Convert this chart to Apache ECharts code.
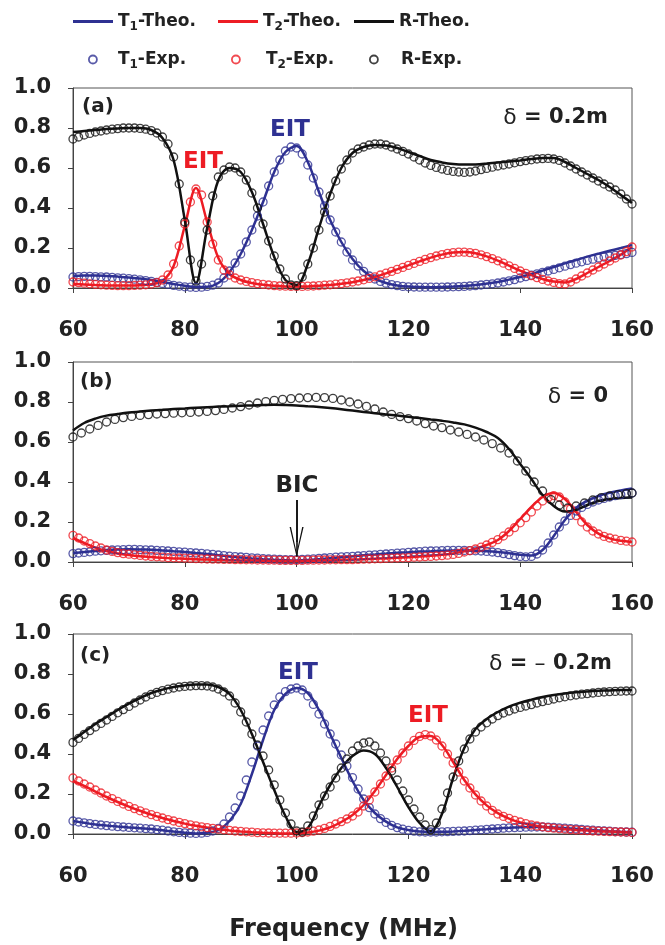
<!DOCTYPE html>
<html>
<head>
<meta charset="utf-8">
<title>T1 / T2 / R spectra</title>
<script src="https://cdn.jsdelivr.net/npm/echarts@6.0.0/dist/echarts.min.js"></script>
<style>
  html, body { margin: 0; padding: 0; background: #fff; }
  #chart { width: 665px; height: 945px; }
</style>
</head>
<body>
<div id="chart"></div>
<script>
var BLUE = '#2e3192', RED = '#ed1c24', BLACK = '#111';
var FONT = 'DejaVu Sans';

// frequency grids (MHz)
var freqExp = [60,61,62,63,64,65,66,67,68,69,70,71,72,73,74,75,76,77,78,79,
  80,81,82,83,84,85,86,87,88,89,90,91,92,93,94,95,96,97,98,99,
  100,101,102,103,104,105,106,107,108,109,110,111,112,113,114,115,116,117,118,119,
  120,121,122,123,124,125,126,127,128,129,130,131,132,133,134,135,136,137,138,139,
  140,141,142,143,144,145,146,147,148,149,150,151,152,153,154,155,156,157,158,159,160];
var freqTheo = [60,62,64,66,68,70,72,74,76,78,80,82,84,86,88,90,92,94,96,98,
  100,102,104,106,108,110,112,114,116,118,120,122,124,126,128,130,132,134,136,138,
  140,142,144,146,148,150,152,154,156,158,160];
var freqRExpB = [60,61.5,63,64.5,66,67.5,69,70.5,72,73.5,75,76.5,78,79.5,81,82.5,84,85.5,87,88.5,
  90,91.5,93,94.5,96,97.5,99,100.5,102,103.5,105,106.5,108,109.5,111,112.5,114,115.5,117,118.5,
  120,121.5,123,124.5,126,127.5,129,130.5,132,133.5,135,136.5,138,139.5,141,142.5,144,145.5,147,148.5,
  150,151.5,153,154.5,156,157.5,159,160];

// panel (a)  delta = 0.2m
var t1ExpA = [.055,.057,.058,.058,.057,.056,.055,.053,.051,.049,
  .047,.044,.041,.037,.033,.028,.023,.018,.013,.009,
  .006,.004,.003,.004,.008,.014,.025,.05,.085,.125,
  .17,.23,.29,.36,.43,.51,.58,.64,.685,.705,
  .70,.67,.615,.55,.48,.41,.34,.28,.23,.18,
  .14,.11,.083,.06,.045,.033,.024,.017,.012,.008,
  .006,.005,.004,.004,.004,.004,.004,.005,.006,.007,
  .008,.01,.012,.015,.018,.021,.025,.03,.036,.042,
  .05,.057,.064,.071,.078,.085,.093,.101,.109,.117,
  .124,.131,.138,.144,.15,.155,.159,.163,.167,.172,.178];
var t2ExpA = [.03,.027,.024,.021,.018,.016,.014,.013,.012,.012,
  .012,.013,.014,.016,.02,.027,.04,.065,.12,.21,
  .32,.43,.495,.465,.33,.22,.14,.09,.065,.05,
  .04,.033,.027,.022,.018,.015,.012,.01,.009,.008,
  .008,.008,.009,.01,.012,.014,.016,.019,.022,.026,
  .03,.035,.041,.048,.056,.065,.074,.083,.093,.103,
  .113,.123,.133,.143,.152,.16,.167,.173,.177,.179,
  .179,.177,.173,.166,.157,.147,.136,.124,.111,.098,
  .085,.073,.062,.052,.043,.035,.028,.022,.02,.03,
  .045,.06,.075,.09,.105,.12,.135,.15,.165,.182,.205];
var rExpA = [.745,.755,.765,.773,.78,.785,.79,.794,.797,.80,
  .80,.80,.798,.794,.787,.775,.755,.72,.655,.52,
  .33,.14,.035,.12,.29,.46,.555,.59,.605,.60,
  .58,.54,.475,.40,.32,.235,.16,.095,.045,.015,
  .012,.055,.12,.2,.29,.38,.46,.535,.595,.64,
  .675,.695,.705,.715,.72,.72,.715,.705,.695,.683,
  .67,.655,.64,.625,.613,.603,.595,.588,.583,.58,
  .578,.58,.585,.592,.598,.604,.61,.615,.62,.626,
  .632,.637,.641,.645,.647,.648,.645,.638,.625,.61,
  .595,.58,.565,.55,.535,.52,.505,.49,.47,.445,.42];
var t1TheoA = [.06,.062,.062,.06,.057,.053,.047,.04,.03,.02,
  .011,.005,.006,.025,.08,.17,.29,.43,.58,.68,
  .71,.63,.48,.34,.23,.145,.085,.047,.025,.013,
  .007,.005,.004,.005,.007,.01,.015,.022,.03,.042,
  .055,.07,.087,.105,.123,.14,.157,.172,.186,.2,.215];
var t2TheoA = [.02,.018,.015,.013,.012,.012,.014,.019,.035,.11,
  .31,.50,.33,.15,.07,.04,.025,.016,.011,.008,
  .007,.008,.011,.015,.021,.029,.04,.055,.073,.093,
  .113,.133,.152,.167,.177,.18,.174,.158,.137,.112,
  .087,.064,.045,.032,.028,.045,.075,.105,.135,.167,.205];
var rTheoA = [.78,.785,.79,.795,.798,.80,.80,.79,.75,.64,
  .34,.025,.30,.54,.60,.58,.48,.32,.155,.04,
  .015,.12,.30,.47,.60,.675,.705,.715,.712,.70,
  .68,.66,.64,.628,.62,.617,.618,.622,.627,.632,
  .638,.645,.65,.65,.63,.60,.57,.54,.505,.465,.425];

// panel (b)  delta = 0
var t1ExpB = [.042,.045,.048,.051,.054,.056,.058,.06,.061,.062,
  .063,.063,.062,.061,.06,.058,.057,.055,.053,.051,
  .049,.047,.045,.043,.041,.038,.035,.032,.029,.027,
  .025,.023,.021,.019,.017,.015,.014,.013,.012,.012,
  .012,.013,.014,.016,.018,.02,.022,.024,.026,.027,
  .028,.03,.032,.034,.036,.038,.04,.042,.044,.046,
  .048,.05,.052,.054,.055,.056,.057,.058,.058,.058,
  .058,.057,.056,.055,.053,.05,.047,.042,.037,.032,
  .028,.026,.028,.04,.06,.095,.135,.175,.205,.233,
  .255,.273,.288,.30,.31,.318,.325,.332,.337,.341,.345];
var t2ExpB = [.133,.12,.105,.092,.08,.07,.06,.053,.047,.042,
  .039,.036,.033,.03,.028,.026,.024,.022,.021,.02,
  .019,.018,.017,.016,.015,.014,.014,.013,.013,.012,
  .012,.011,.011,.01,.01,.009,.009,.008,.008,.008,
  .008,.008,.009,.009,.01,.01,.011,.011,.012,.012,
  .012,.013,.014,.015,.016,.017,.018,.019,.02,.021,
  .022,.024,.025,.027,.028,.03,.032,.034,.038,.043,
  .05,.057,.065,.074,.085,.098,.112,.13,.15,.172,
  .196,.222,.25,.28,.305,.322,.332,.325,.30,.265,
  .232,.2,.175,.155,.14,.128,.12,.114,.108,.104,.10];
var rExpB = [.625,.645,.665,.683,.70,.713,.722,.728,.733,.737,
  .74,.742,.744,.746,.748,.75,.753,.757,.763,.77,
  .777,.785,.795,.802,.808,.813,.817,.82,.822,.823,
  .822,.818,.81,.80,.79,.778,.765,.75,.738,.727,
  .717,.705,.692,.68,.672,.66,.65,.638,.625,.61,
  .592,.57,.545,.505,.455,.40,.355,.312,.285,.27,
  .28,.295,.31,.322,.33,.337,.342,.345];
var t1TheoB = [.045,.05,.055,.06,.063,.064,.063,.061,.058,.054,
  .05,.045,.04,.034,.028,.023,.018,.014,.011,.009,
  .008,.01,.014,.019,.024,.029,.034,.038,.042,.046,
  .049,.052,.054,.056,.057,.057,.056,.054,.05,.044,
  .036,.032,.06,.13,.21,.27,.305,.33,.346,.358,.368];
var t2TheoB = [.12,.095,.072,.055,.043,.035,.029,.025,.021,.018,
  .016,.014,.012,.01,.009,.008,.007,.006,.005,.005,
  .005,.006,.007,.008,.01,.012,.014,.016,.018,.021,
  .024,.027,.031,.036,.043,.053,.067,.085,.11,.155,
  .215,.275,.325,.345,.315,.25,.185,.142,.118,.106,.10];
var rTheoB = [.658,.695,.717,.732,.74,.747,.752,.757,.761,.765,
  .768,.771,.774,.777,.779,.781,.783,.785,.786,.785,
  .783,.779,.775,.77,.764,.757,.75,.744,.738,.732,
  .726,.72,.713,.706,.698,.688,.672,.65,.62,.565,
  .49,.415,.335,.28,.252,.26,.285,.305,.315,.32,.322];

// panel (c)  delta = -0.2m
var t1ExpC = [.065,.06,.056,.052,.048,.045,.042,.039,.037,.035,
  .033,.031,.029,.027,.025,.022,.019,.015,.011,.008,
  .006,.004,.003,.004,.008,.015,.028,.05,.085,.13,
  .19,.27,.36,.44,.52,.59,.645,.685,.712,.725,
  .73,.72,.69,.648,.60,.55,.50,.45,.395,.34,
  .282,.225,.175,.132,.10,.077,.058,.043,.032,.024,
  .018,.014,.011,.01,.01,.01,.011,.012,.013,.014,
  .015,.017,.019,.021,.023,.025,.027,.029,.031,.032,
  .033,.034,.035,.035,.035,.034,.033,.031,.029,.027,
  .025,.023,.021,.019,.017,.015,.014,.012,.011,.01,.009];
var t2ExpC = [.28,.265,.25,.235,.22,.205,.19,.177,.163,.15,
  .138,.127,.116,.106,.097,.088,.08,.072,.065,.058,
  .052,.046,.041,.036,.032,.028,.024,.021,.018,.015,
  .013,.011,.009,.007,.006,.005,.004,.004,.004,.004,
  .005,.007,.01,.014,.02,.028,.038,.05,.062,.075,
  .09,.11,.14,.17,.21,.25,.29,.33,.37,.405,
  .44,.468,.488,.497,.49,.47,.44,.40,.355,.31,
  .265,.23,.195,.165,.14,.118,.10,.088,.078,.068,
  .06,.052,.045,.04,.036,.032,.029,.026,.024,.022,
  .02,.018,.017,.015,.014,.013,.012,.011,.01,.009,.008];
var rExpC = [.458,.478,.498,.517,.535,.553,.57,.588,.606,.622,
  .638,.655,.67,.685,.698,.708,.717,.724,.73,.735,
  .738,.74,.742,.742,.74,.735,.725,.71,.69,.655,
  .61,.56,.50,.445,.39,.32,.245,.17,.105,.05,
  .015,.01,.04,.09,.145,.19,.235,.28,.33,.375,
  .415,.44,.455,.46,.44,.405,.365,.315,.27,.215,
  .17,.125,.085,.045,.022,.055,.125,.205,.285,.365,
  .425,.475,.51,.535,.556,.575,.592,.605,.615,.625,
  .633,.64,.647,.655,.662,.668,.675,.681,.686,.691,
  .695,.699,.702,.705,.708,.71,.712,.713,.714,.715,.715];
var t1TheoC = [.065,.056,.048,.042,.037,.033,.029,.025,.019,.012,
  .006,.003,.006,.02,.065,.15,.30,.47,.62,.70,
  .73,.705,.62,.50,.38,.265,.17,.105,.062,.033,
  .02,.012,.01,.011,.013,.016,.02,.024,.028,.031,
  .034,.035,.035,.033,.03,.026,.022,.018,.014,.011,.009];
var t2TheoC = [.265,.24,.212,.185,.16,.137,.116,.097,.08,.065,
  .052,.041,.032,.024,.018,.013,.009,.006,.004,.003,
  .004,.008,.017,.033,.06,.095,.145,.215,.295,.375,
  .44,.485,.49,.445,.36,.27,.198,.143,.104,.077,
  .058,.045,.036,.029,.024,.02,.017,.014,.012,.01,.008];
var rTheoC = [.47,.51,.55,.585,.62,.652,.68,.705,.722,.735,
  .743,.748,.748,.735,.70,.62,.50,.36,.22,.09,
  .01,.03,.14,.245,.33,.39,.418,.40,.33,.235,
  .135,.055,.015,.10,.28,.43,.525,.575,.61,.637,
  .657,.672,.685,.695,.703,.709,.713,.716,.718,.72,.72];

var xTicks = [60, 80, 100, 120, 140, 160];
var yTicks = [0, 0.2, 0.4, 0.6, 0.8, 1.0];

function pairs(xs, ys) {
  return xs.map(function (x, i) { return [x, ys[i]]; });
}

var panels = [
  { top: 88,  t1: [t1TheoA, t1ExpA], t2: [t2TheoA, t2ExpA], r: [rTheoA, rExpA], rFreq: freqExp },
  { top: 362, t1: [t1TheoB, t1ExpB], t2: [t2TheoB, t2ExpB], r: [rTheoB, rExpB], rFreq: freqRExpB },
  { top: 634, t1: [t1TheoC, t1ExpC], t2: [t2TheoC, t2ExpC], r: [rTheoC, rExpC], rFreq: freqExp }
];

var tickFont = { fontFamily: FONT, fontWeight: 'bold', fontSize: 21, color: '#222' };
var axisCol = '#444';
var arrowHead = 'path://M0,30L7,0L14,30L12.6,30L7,4.5L1.4,30Z';

var grids = [], xAxes = [], yAxes = [], series = [];
panels.forEach(function (p, i) {
  grids.push({ left: 73, top: p.top, width: 559, height: 200, show: true,
    borderColor: '#555', borderWidth: 1, outerBoundsMode: 'none' });
  var xa = {
    gridIndex: i, type: 'value', min: xTicks[0], max: xTicks[xTicks.length - 1], interval: 20,
    axisLine: { show: true, lineStyle: { color: axisCol, width: 1 } },
    axisTick: { show: true, inside: false, length: 5, lineStyle: { color: axisCol } },
    splitLine: { show: false },
    axisLabel: Object.assign({ margin: 32 }, tickFont)
  };
  if (i === 2) {
    xa.name = 'Frequency (MHz)';
    xa.nameLocation = 'middle';
    xa.nameGap = 84;
    xa.nameTextStyle = { fontFamily: FONT, fontWeight: 'bold', fontSize: 24, color: '#222',
      padding: [0, 18, 0, 0] };
  }
  xAxes.push(xa);
  yAxes.push({
    gridIndex: i, type: 'value', min: yTicks[0], max: yTicks[yTicks.length - 1], interval: 0.2,
    axisLine: { show: true, lineStyle: { color: axisCol, width: 1 } },
    axisTick: { show: true, inside: false, length: 5, lineStyle: { color: axisCol } },
    splitLine: { show: false },
    axisLabel: Object.assign({ margin: 22, formatter: function (v) { return v.toFixed(1); } }, tickFont)
  });

  var sets = [
    { key: 't1', name: 'T1', color: BLUE, fx: freqExp },
    { key: 't2', name: 'T2', color: RED, fx: freqExp },
    { key: 'r', name: 'R', color: BLACK, fx: p.rFreq }
  ];
  sets.forEach(function (s) {
    var line = {
      type: 'line', name: s.name + '-Theo.', xAxisIndex: i, yAxisIndex: i,
      data: pairs(freqTheo, p[s.key][0]), symbol: 'none', smooth: 0.35,
      lineStyle: { color: s.color, width: 2.5 }, itemStyle: { color: s.color },
      silent: true, z: 3
    };
    if (i === 1 && s.key === 'r') {
      // BIC arrow: shaft down to the tip, plus an open head
      line.markLine = {
        silent: true,
        symbol: ['none', 'none'],
        lineStyle: { color: BLACK, width: 1.6, type: 'solid' },
        label: { show: false },
        data: [
          [{ coord: [100, 0.31] }, { coord: [100, 0.027] }],
          [{ coord: [100, 0.31] }, { coord: [100, 0.1], symbol: arrowHead, symbolSize: [14, 30] }]
        ]
      };
    }
    series.push(line);
    series.push({
      type: 'scatter', name: s.name + '-Exp.', xAxisIndex: i, yAxisIndex: i,
      data: pairs(s.fx, p[s.key][1]), symbol: 'circle', symbolSize: 8,
      itemStyle: { color: 'rgba(0,0,0,0)', borderColor: s.color, borderWidth: 1.3 },
      silent: true, z: 4
    });
  });
});

var legendRich = {
  b: { fontFamily: FONT, fontWeight: 'bold', fontSize: 17, color: '#222' },
  s: { fontFamily: FONT, fontWeight: 'bold', fontSize: 12, color: '#222', padding: [10, 0, 0, 0] }
};
function legendFmt(name) {
  if (name.charAt(0) === 'T') {
    return '{b|T}{s|' + name.charAt(1) + '}{b|' + name.slice(2) + '}';
  }
  return '{b|' + name + '}';
}
function theoLegend(name, left, color) {
  return {
    data: [{ name: name, icon: 'rect', itemStyle: { color: color, borderWidth: 0 } }],
    left: left, top: 13, itemWidth: 40, itemHeight: 3, padding: 0,
    selectedMode: false, formatter: legendFmt, textStyle: { rich: legendRich }
  };
}
function expLegend(name, cx, textX, color) {
  return {
    data: [{ name: name, icon: 'circle',
      itemStyle: { color: 'rgba(0,0,0,0)', borderColor: color, borderWidth: 1.8 } }],
    left: cx - 4, top: 51, itemWidth: 8, itemHeight: 8, padding: 0,
    selectedMode: false, formatter: legendFmt,
    textStyle: { rich: legendRich, padding: [0, 0, 0, textX - (cx + 4) - 5] }
  };
}
var legends = [
  theoLegend('T1-Theo.', 73, BLUE),
  theoLegend('T2-Theo.', 218, RED),
  theoLegend('R-Theo.', 354, BLACK),
  expLegend('T1-Exp.', 92, 117, BLUE),
  expLegend('T2-Exp.', 235, 265, RED),
  expLegend('R-Exp.', 373, 400, BLACK)
];

function label(x, y, text, color, size, align) {
  return { type: 'text', x: x, y: y, silent: true, z: 10,
    style: { text: text, fill: color, align: align || 'center', verticalAlign: 'middle',
      font: 'bold ' + size + 'px "' + FONT + '"' } };
}
var deltaRich = {
  d: { fontFamily: FONT, fontWeight: 'normal', fontSize: 22, fill: '#222' },
  b: { fontFamily: FONT, fontWeight: 'bold', fontSize: 21, fill: '#222' }
};
function deltaLabel(x, y, text) {
  return { type: 'text', x: x, y: y, silent: true, z: 10,
    style: { text: text, rich: deltaRich, align: 'right', verticalAlign: 'middle' } };
}

var graphics = [
  label(82, 107, '(a)', '#222', 20, 'left'),
  deltaLabel(608, 118, '{d|δ}{b| = 0.2m}'),
  label(203, 162, 'EIT', RED, 23),
  label(290, 130, 'EIT', BLUE, 23),
  label(80, 382, '(b)', '#222', 20, 'left'),
  deltaLabel(608, 397, '{d|δ}{b| = 0}'),
  label(297, 486, 'BIC', '#222', 23),
  label(80, 656, '(c)', '#222', 20, 'left'),
  deltaLabel(612, 664, '{d|δ}{b| = }{d|–}{b| 0.2m}'),
  label(298, 673, 'EIT', BLUE, 23),
  label(428, 716, 'EIT', RED, 23)
];

var chart = echarts.init(document.getElementById('chart'), null, { renderer: 'canvas' });
chart.setOption({
  backgroundColor: '#fff',
  animation: false,
  legend: legends,
  grid: grids,
  xAxis: xAxes,
  yAxis: yAxes,
  series: series,
  graphic: graphics
});
</script>
</body>
</html>
